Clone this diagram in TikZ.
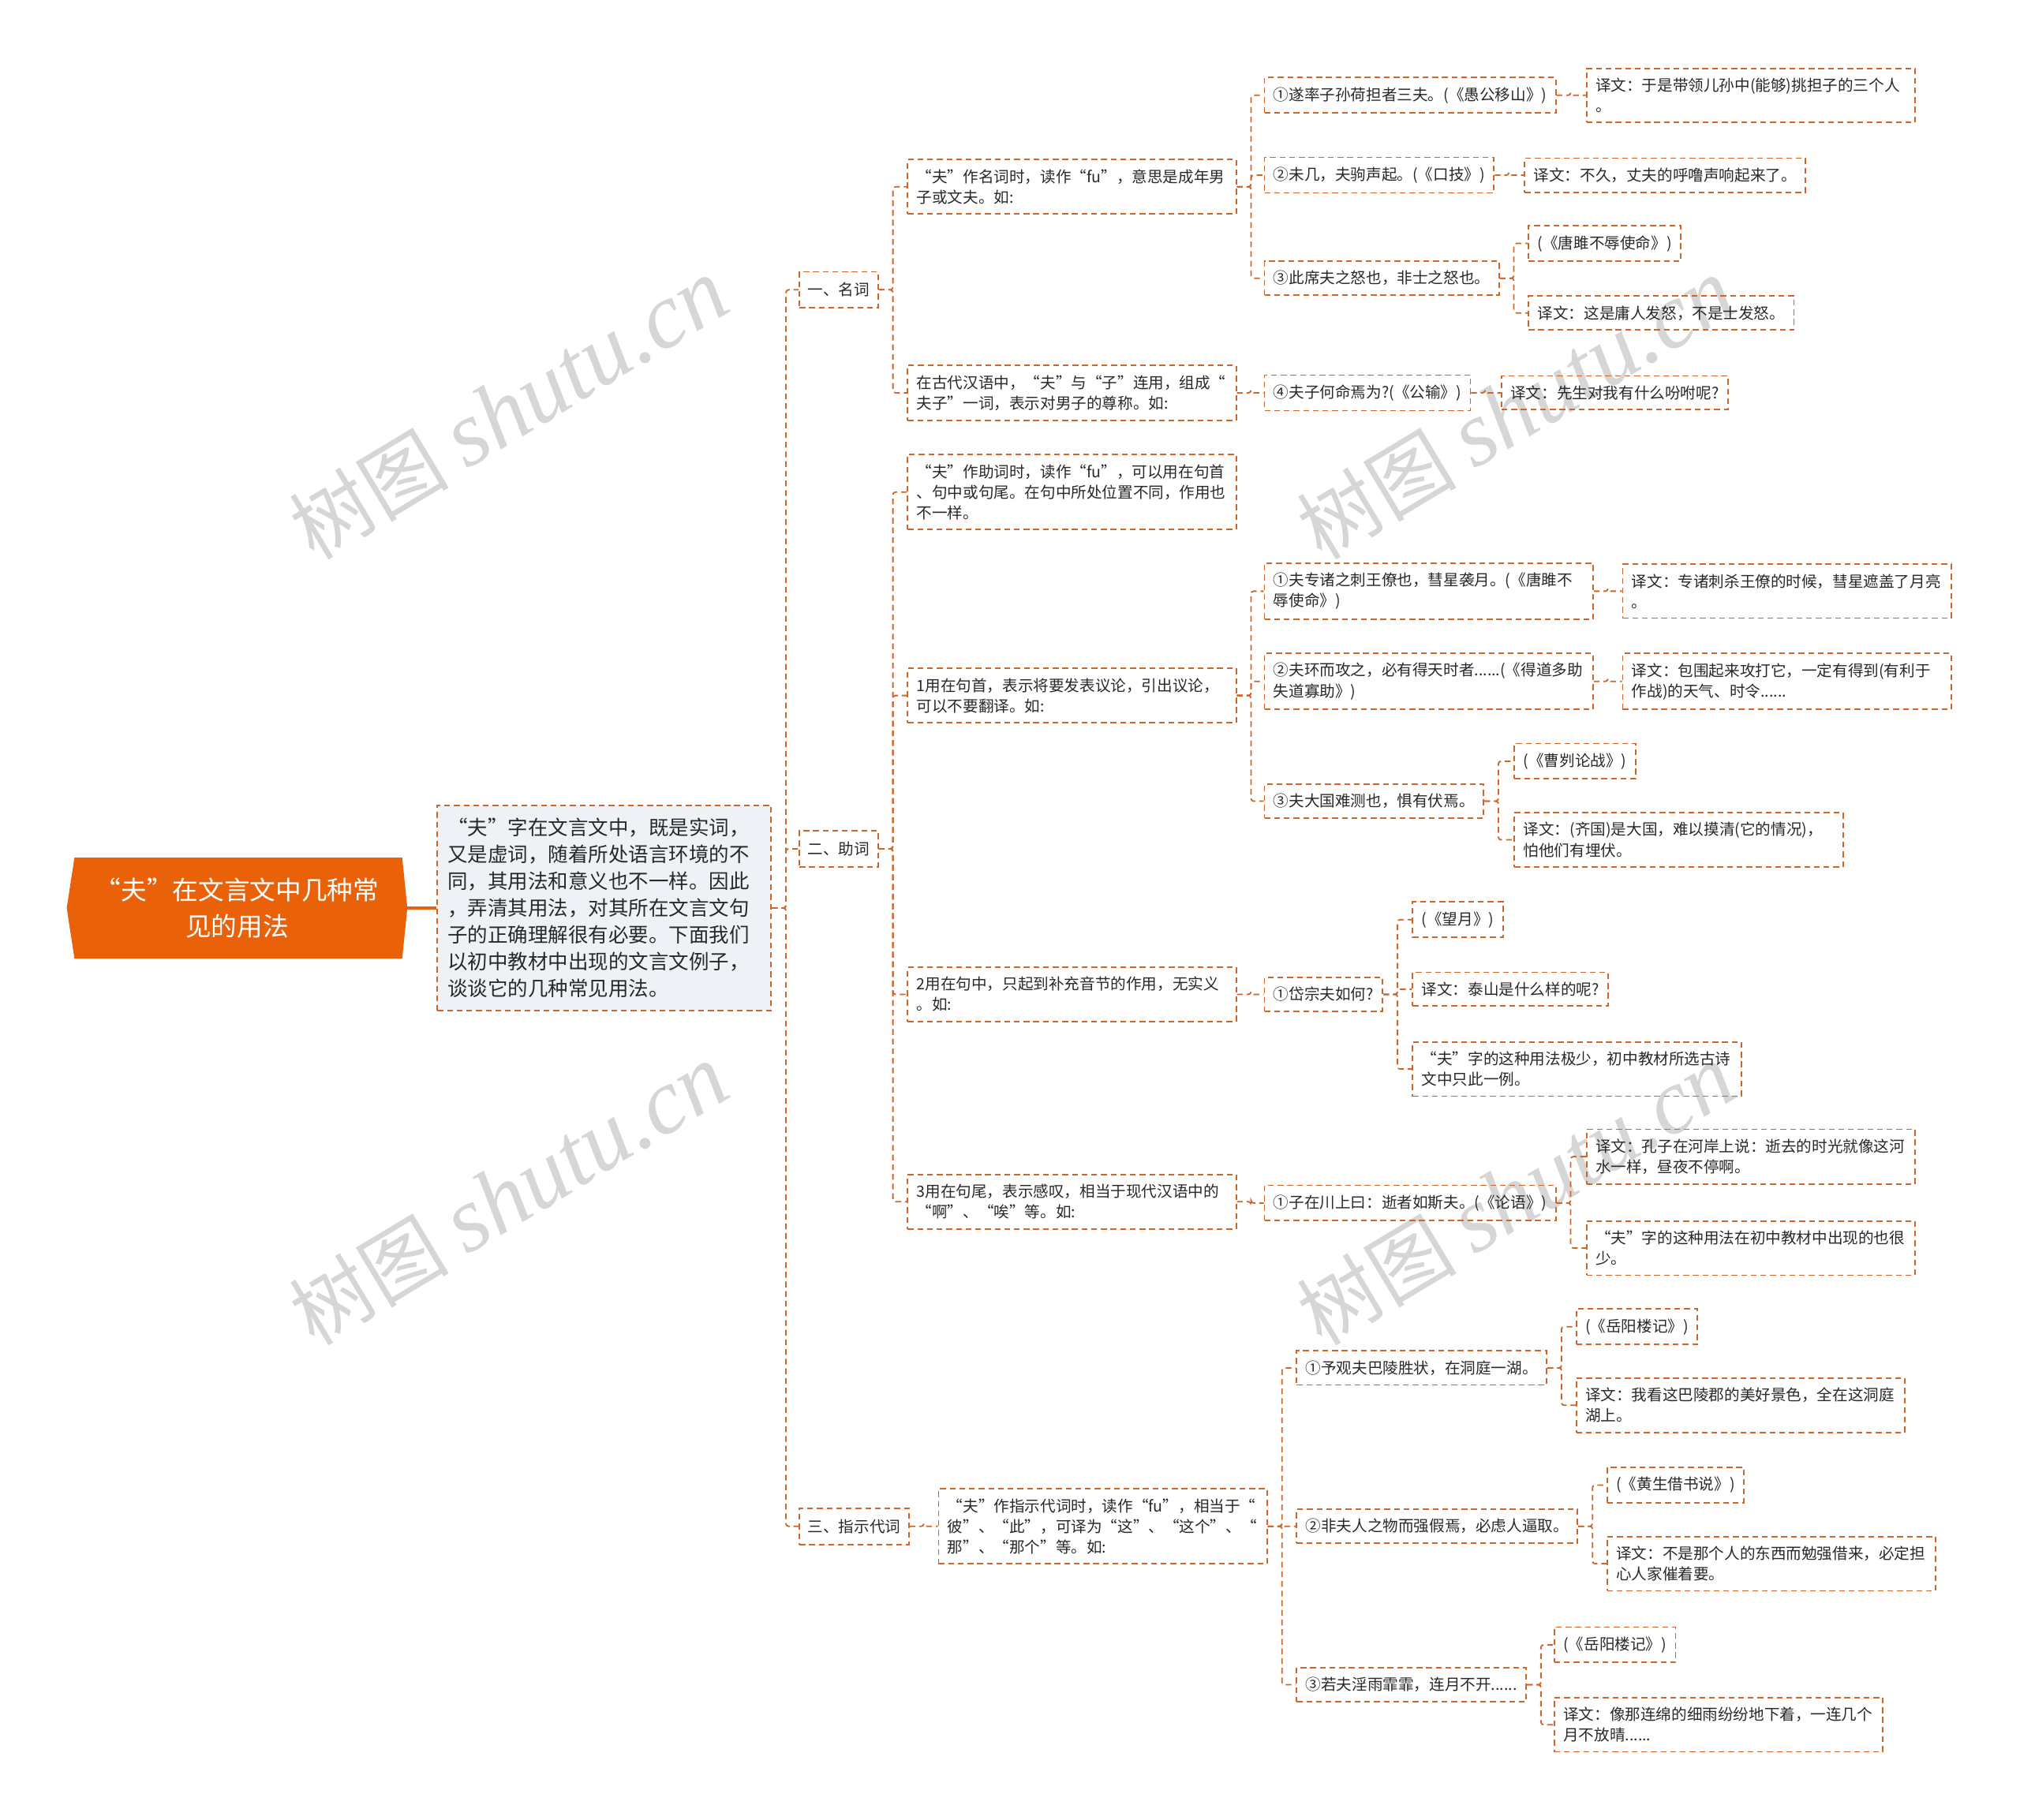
\documentclass[tikz,border=0pt]{standalone}
\usepackage{fontspec}
\setmainfont{Noto Sans CJK SC}
\newfontfamily\wmlatin{Liberation Serif}
\usetikzlibrary{backgrounds}
\definecolor{linecol}{RGB}{204,102,41}
\definecolor{rootcol}{RGB}{233,98,10}
\definecolor{desccol}{RGB}{238,241,245}
\definecolor{txtcol}{RGB}{40,40,40}
\definecolor{wmcol}{RGB}{214,214,214}
\tikzset{
  box/.style={draw=linecol, dashed, dash pattern=on 4.5pt off 3pt, line width=1.1pt,
    anchor=west, align=left, inner xsep=7pt, inner ysep=7.5pt, text=txtcol,
    font=\fontsize{12}{16}\selectfont},
  wide/.style={box, text width=241pt},
  lvl/.style={box, inner xsep=6.5pt, inner ysep=8.5pt},
  link/.style={draw=linecol, dash pattern=on 4.5pt off 3pt, line width=1.1pt, rounded corners=2pt},
  wmark/.style={text=wmcol, rotate=31, font=\fontsize{62}{62}\selectfont, inner sep=0pt}
}
\begin{document}
\begin{tikzpicture}[x=1pt, y=-1pt]
\useasboundingbox (0,0) rectangle (1568,1413);

% watermarks
\node[wmark] (w1) at (395,318) {树图 {\wmlatin\itshape\fontsize{72}{72}\selectfont shutu.cn}};
\node[wmark] (w2) at (1177,318) {树图 {\wmlatin\itshape\fontsize{72}{72}\selectfont shutu.cn}};
\node[wmark] (w3) at (395,928) {树图 {\wmlatin\itshape\fontsize{72}{72}\selectfont shutu.cn}};
\node[wmark] (w4) at (1177,928) {树图 {\wmlatin\itshape\fontsize{72}{72}\selectfont shutu.cn}};

% root and introduction
\node[text=white, align=center, minimum width=264pt, minimum height=78pt, inner sep=0pt,
  font=\fontsize{20}{28}\selectfont] (root) at (184,705) {“夫”在文言文中几种常\\见的用法};
\begin{pgfonlayer}{background}
\fill[rootcol] (root.west) -- ([xshift=6pt]root.north west) -- ([xshift=-4pt]root.north east)
  -- (root.east) -- ([xshift=-4pt]root.south east) -- ([xshift=6pt]root.south west) -- cycle;
\end{pgfonlayer}
\node[box, fill=desccol, text width=243pt, inner xsep=8pt, inner ysep=10pt,
  font=\fontsize{15.6}{20.8}\selectfont] (desc) at (339,705) {“夫”字在文言文中，既是实词，\\又是虚词，随着所处语言环境的不\\同，其用法和意义也不一样。因此\\，弄清其用法，对其所在文言文句\\子的正确理解很有必要。下面我们\\以初中教材中出现的文言文例子，\\谈谈它的几种常见用法。};
\draw[rootcol, line width=2.5pt] (root.east) -- (desc.west);

% first level
\node[lvl] (ming) at (620,225) {一、名词};
\node[lvl] (zhu) at (620,659) {二、助词};
\node[lvl] (zhi) at (620,1185) {三、指示代词};

% nouns
\node[wide] (m1) at (704,145) {“夫”作名词时，读作“fu”，意思是成年男\\子或文夫。如:};
\node[wide] (m2) at (704,305) {在古代汉语中，“夫”与“子”连用，组成“\\夫子”一词，表示对男子的尊称。如:};
\node[box] (m1a) at (981,74) {①遂率子孙荷担者三夫。(《愚公移山》)};
\node[wide] (m1at) at (1231,74) {译文：于是带领儿孙中(能够)挑担子的三个人\\。};
\node[box] (m1b) at (981,136) {②未几，夫驹声起。(《口技》)};
\node[box] (m1bt) at (1183,136) {译文：不久，丈夫的呼噜声响起来了。};
\node[box] (m1c) at (981,216) {③此席夫之怒也，非士之怒也。};
\node[box] (m1c1) at (1186,189) {(《唐雎不辱使命》)};
\node[box] (m1c2) at (1186,243) {译文：这是庸人发怒，不是士发怒。};
\node[box] (m2a) at (981,305) {④夫子何命焉为?(《公输》)};
\node[box] (m2at) at (1165,305) {译文：先生对我有什么吩咐呢?};

% particles
\node[wide] (z0) at (704,382) {“夫”作助词时，读作“fu”，可以用在句首\\、句中或句尾。在句中所处位置不同，作用也\\不一样。};
\node[wide] (z1) at (704,540) {1用在句首，表示将要发表议论，引出议论，\\可以不要翻译。如:};
\node[wide] (z1a) at (981,459) {①夫专诸之刺王僚也，彗星袭月。(《唐雎不\\辱使命》)};
\node[wide] (z1at) at (1259,459) {译文：专诸刺杀王僚的时候，彗星遮盖了月亮\\。};
\node[wide] (z1b) at (981,529) {②夫环而攻之，必有得天时者......(《得道多助\\失道寡助》)};
\node[wide] (z1bt) at (1259,529) {译文：包围起来攻打它，一定有得到(有利于\\作战)的天气、时令......};
\node[box] (z1c) at (981,622) {③夫大国难测也，惧有伏焉。};
\node[box] (z1c1) at (1175,591) {(《曹刿论战》)};
\node[wide] (z1c2) at (1175,652) {译文：(齐国)是大国，难以摸清(它的情况)，\\怕他们有埋伏。};
\node[wide] (z2) at (704,772) {2用在句中，只起到补充音节的作用，无实义\\。如:};
\node[box] (z2a) at (981,772) {①岱宗夫如何?};
\node[box] (z2a1) at (1096,714) {(《望月》)};
\node[box] (z2a2) at (1096,768) {译文：泰山是什么样的呢?};
\node[wide] (z2a3) at (1096,830) {“夫”字的这种用法极少，初中教材所选古诗\\文中只此一例。};
\node[wide] (z3) at (704,933) {3用在句尾，表示感叹，相当于现代汉语中的\\“啊”、“唉”等。如:};
\node[box] (z3a) at (981,934) {①子在川上曰：逝者如斯夫。(《论语》)};
\node[wide] (z3a1) at (1231,898) {译文：孔子在河岸上说：逝去的时光就像这河\\水一样，昼夜不停啊。};
\node[wide] (z3a2) at (1231,969) {“夫”字的这种用法在初中教材中出现的也很\\少。};

% demonstratives
\node[wide] (p0) at (728,1185) {“夫”作指示代词时，读作“fu”，相当于“\\彼”、“此”，可译为“这”、“这个”、“\\那”、“那个”等。如:};
\node[box] (p1) at (1006,1062) {①予观夫巴陵胜状，在洞庭一湖。};
\node[box] (p11) at (1223,1030) {(《岳阳楼记》)};
\node[wide] (p12) at (1223,1091) {译文：我看这巴陵郡的美好景色，全在这洞庭\\湖上。};
\node[box] (p2) at (1006,1185) {②非夫人之物而强假焉，必虑人逼取。};
\node[box] (p21) at (1247,1153) {(《黄生借书说》)};
\node[wide] (p22) at (1247,1214) {译文：不是那个人的东西而勉强借来，必定担\\心人家催着要。};
\node[box] (p3) at (1006,1308) {③若夫淫雨霏霏，连月不开......};
\node[box] (p31) at (1206,1277) {(《岳阳楼记》)};
\node[wide] (p32) at (1206,1339) {译文：像那连绵的细雨纷纷地下着，一连几个\\月不放晴......};

% connectors
\foreach \a/\b in {desc/ming, desc/zhu, desc/zhi,
  ming/m1, ming/m2, m1/m1a, m1/m1b, m1/m1c, m1a/m1at, m1b/m1bt, m1c/m1c1, m1c/m1c2, m2/m2a, m2a/m2at,
  zhu/z0, zhu/z1, zhu/z2, zhu/z3, z1/z1a, z1/z1b, z1/z1c, z1a/z1at, z1b/z1bt, z1c/z1c1, z1c/z1c2,
  z2/z2a, z2a/z2a1, z2a/z2a2, z2a/z2a3, z3/z3a, z3a/z3a1, z3a/z3a2,
  zhi/p0, p0/p1, p0/p2, p0/p3, p1/p11, p1/p12, p2/p21, p2/p22, p3/p31, p3/p32}
  \draw[link] (\a.east) -- ++(11,0) |- (\b.west);
\end{tikzpicture}
\end{document}
